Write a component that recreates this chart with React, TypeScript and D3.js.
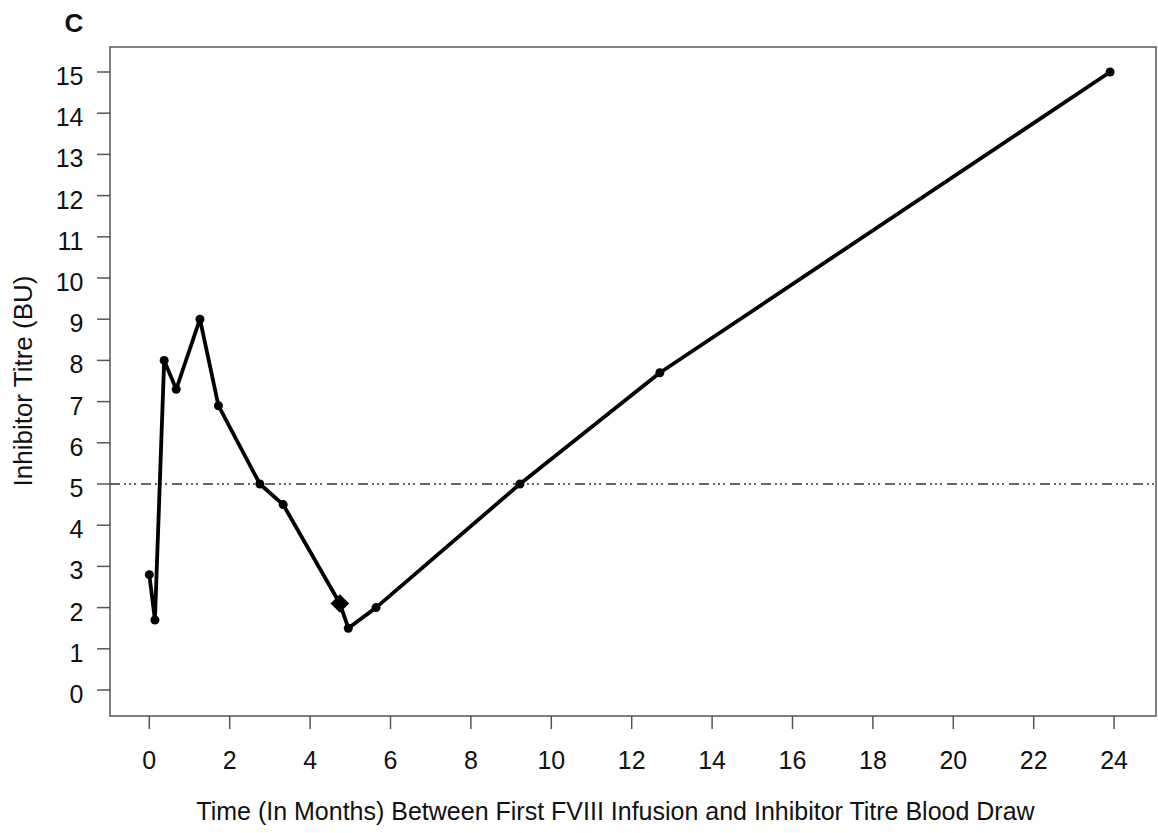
import React from "react";
import * as d3 from "d3";

const months = [0, 0.14, 0.37, 0.67, 1.26, 1.72, 2.75, 3.33, 4.74, 4.95, 5.64, 9.22, 12.7, 23.9];
const titres = [2.8, 1.7, 8.0, 7.3, 9.0, 6.9, 5.0, 4.5, 2.1, 1.5, 2.0, 5.0, 7.7, 15.0];
const diamondIndex = [8];
const xTicks = d3.range(0, 25, 2);
const yTicks = d3.range(0, 16, 1);
const threshold = 5;

const W = 1158;
const H = 833;
const box = { left: 110, right: 1156, top: 47, bottom: 716 };

export default function App() {
  const x = d3.scaleLinear().domain([0, 24]).range([149.3, 1114.1]);
  const y = d3.scaleLinear().domain([0, 15]).range([690, 72]);
  const pts: [number, number][] = months.map((m, i) => [m, titres[i]]);
  const line = d3
    .line<[number, number]>()
    .x((d) => x(d[0]))
    .y((d) => y(d[1]));
  const font = "'Liberation Sans', Arial, Helvetica, sans-serif";
  const axisColor = "#555";
  const diamond = d3.symbol().type(d3.symbolSquare).size(175)();
  return (
    <svg
      width={W}
      height={H}
      style={{ position: "absolute", left: 0, top: 0, background: "#fff" }}
      fontFamily={font}
    >
      <text x={74} y={32} fontSize={26} fontWeight="bold" textAnchor="middle" fill="#111">
        C
      </text>
      {/* box */}
      <rect
        x={box.left}
        y={box.top}
        width={box.right - box.left}
        height={box.bottom - box.top}
        fill="none"
        stroke={axisColor}
        strokeWidth={1.5}
      />
      {/* y axis */}
      {yTicks.map((t) => (
        <g key={"y" + t}>
          <line x1={97} x2={box.left} y1={y(t)} y2={y(t)} stroke={axisColor} strokeWidth={1.5} />
          <text x={83.5} y={y(t) + 13} fontSize={25} textAnchor="end" fill="#111">
            {t}
          </text>
        </g>
      ))}
      {/* x axis */}
      {xTicks.map((t) => (
        <g key={"x" + t}>
          <line x1={x(t)} x2={x(t)} y1={box.bottom} y2={729} stroke={axisColor} strokeWidth={1.5} />
          <text x={x(t)} y={769} fontSize={25} textAnchor="middle" fill="#111">
            {t}
          </text>
        </g>
      ))}
      <text x={615.5} y={820} fontSize={25} textAnchor="middle" fill="#111">
        Time (In Months) Between First FVIII Infusion and Inhibitor Titre Blood Draw
      </text>
      <text
        transform={`translate(32, ${y(7.5)}) rotate(-90)`}
        fontSize={26}
        textAnchor="middle"
        fill="#111"
      >
        Inhibitor Titre (BU)
      </text>
      {/* threshold */}
      <line
        x1={box.left}
        x2={box.right}
        y1={y(threshold)}
        y2={y(threshold)}
        stroke="#333"
        strokeWidth={1.5}
        strokeDasharray="10,4,2,3,2,3,2,5"
      />
      {/* data line */}
      <path d={line(pts) || ""} fill="none" stroke="#000" strokeWidth={3.8} strokeLinejoin="round" />
      {pts.map((p, i) =>
        diamondIndex.includes(i) ? (
          <path
            key={"p" + i}
            d={diamond || ""}
            transform={`translate(${x(p[0])},${y(p[1])}) rotate(45)`}
            fill="#000"
          />
        ) : (
          <circle key={"p" + i} cx={x(p[0])} cy={y(p[1])} r={4.5} fill="#000" />
        )
      )}
    </svg>
  );
}
